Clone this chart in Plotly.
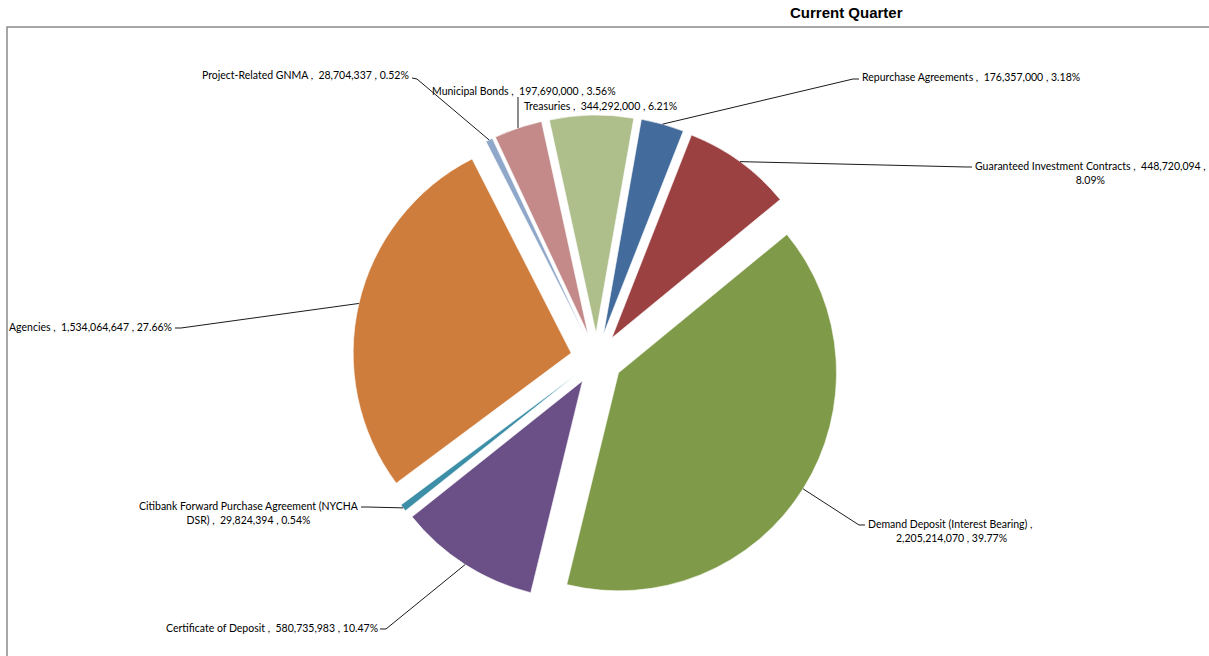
import math
import textwrap
import plotly.graph_objects as go

# Portfolio holdings for the current quarter (USD)
categories = [
    "Repurchase Agreements",
    "Guaranteed Investment Contracts",
    "Demand Deposit (Interest Bearing)",
    "Certificate of Deposit",
    "Citibank Forward Purchase Agreement (NYCHA DSR)",
    "Agencies",
    "Project-Related GNMA",
    "Municipal Bonds",
    "Treasuries",
]
amounts = [
    176357000,
    448720094,
    2205214070,
    580735983,
    29824394,
    1534064647,
    28704337,
    197690000,
    344292000,
]
slice_colors = [
    "#436C9C", "#9C4141", "#7F9A48", "#6B5087", "#3C8FA6",
    "#CE7D3D", "#8FA8CA", "#C48A8A", "#AEBF8C",
]

W, H = 1209, 656
PULL = 0.1193
ROTATION = 10
DOM_X = [0.29156, 0.69520]
DOM_Y = [0.08079, 0.82470]

total = sum(amounts)
pcts = [v / total * 100 for v in amounts]

fig = go.Figure(go.Pie(
    labels=categories,
    values=amounts,
    sort=False,
    direction="clockwise",
    rotation=ROTATION,
    pull=[PULL] * len(amounts),
    textinfo="none",
    marker=dict(colors=slice_colors, line=dict(color="white", width=0.6)),
    domain=dict(x=DOM_X, y=DOM_Y),
    showlegend=False,
))

# pie geometry in pixels (same rules plotly uses to size the pie)
box_w = W * (DOM_X[1] - DOM_X[0])
box_h = H * (DOM_Y[1] - DOM_Y[0])
r = min(box_w, box_h) / (2 + 2 * PULL)
cx = W * (DOM_X[0] + DOM_X[1]) / 2
cy = H * (1 - (DOM_Y[0] + DOM_Y[1]) / 2)


def arc_point(i):
    before = sum(amounts[:i])
    ang = math.radians(ROTATION + 360 * (before + amounts[i] / 2) / total)
    d = r * (1 + PULL)
    return cx + d * math.sin(ang), cy - d * math.cos(ang)


def px(x, y):
    return x / W, 1 - y / H


NB = "\u00a0"

# label placement: text anchor (px), anchor side, wrap width, leader hook
label_layout = {
    "Repurchase Agreements": dict(x=860, y=77, xa="left", wrap=None, hook=[(853, 79), (859, 79)]),
    "Guaranteed Investment Contracts": dict(x=973, y=173, xa="left", wrap=49, hook=[(966, 167), (972, 167)]),
    "Demand Deposit (Interest Bearing)": dict(x=866, y=530.5, xa="left", wrap=37, hook=[(859, 525), (865, 525)]),
    "Certificate of Deposit": dict(x=380, y=628, xa="right", wrap=None, hook=[(386, 629), (380, 629)]),
    "Citibank Forward Purchase Agreement (NYCHA DSR)": dict(x=361, y=512.5, xa="right", wrap=43, hook=[(367, 507), (361, 507)]),
    "Agencies": dict(x=174, y=327, xa="right", wrap=None, hook=[(181, 328), (175, 328)]),
    "Project-Related GNMA": dict(x=411, y=75, xa="right", wrap=None, hook=[(417, 79), (412, 78)]),
    "Municipal Bonds": dict(x=430, y=91, xa="left", wrap=None, hook="vertical"),
    "Treasuries": dict(x=522, y=106, xa="left", wrap=None, hook=None),
}

FONT = dict(family="Lato, Carlito, Calibri, sans-serif", size=10.5, color="#000000")

for i, name in enumerate(categories):
    lay = label_layout[name]
    text = f"{name} ,{NB} {amounts[i]:,} , {pcts[i]:.2f}%"
    if lay["wrap"]:
        text = "<br>".join(textwrap.wrap(text, width=lay["wrap"]))
    ax_, ay_ = px(lay["x"], lay["y"])
    fig.add_annotation(
        x=ax_, y=ay_, xref="paper", yref="paper", text=text, showarrow=False,
        xanchor=lay["xa"], yanchor="middle", align="center", font=FONT,
    )
    hook = lay["hook"]
    if hook is None:
        continue
    ex, ey = arc_point(i)
    if hook == "vertical":
        pts = [(ex, lay["y"] + 6), (ex, ey)]
    else:
        pts = [(ex, ey)] + hook
    path = "M " + " L ".join(f"{px(a, b)[0]:.5f},{px(a, b)[1]:.5f}" for a, b in pts)
    fig.add_shape(type="path", path=path, xref="paper", yref="paper",
                  line=dict(color="black", width=0.9))

# plot-area frame
fig.add_shape(type="rect", xref="paper", yref="paper",
              x0=7 / W, y0=-0.02, x1=1.02, y1=1 - 27 / H,
              line=dict(color="#8a8a8a", width=1.5), fillcolor="rgba(0,0,0,0)", layer="below")

fig.add_annotation(
    x=847 / W, y=1 - 13 / H, xref="paper", yref="paper", showarrow=False,
    text="<b>Current Quarter</b>", xanchor="center", yanchor="middle",
    font=dict(family="Liberation Sans, Arial, sans-serif", size=15, color="#000000"),
)

fig.update_layout(
    width=W, height=H,
    margin=dict(l=0, r=0, t=0, b=0),
    paper_bgcolor="white", plot_bgcolor="white",
    showlegend=False,
)

fig.write_html("out.html")
